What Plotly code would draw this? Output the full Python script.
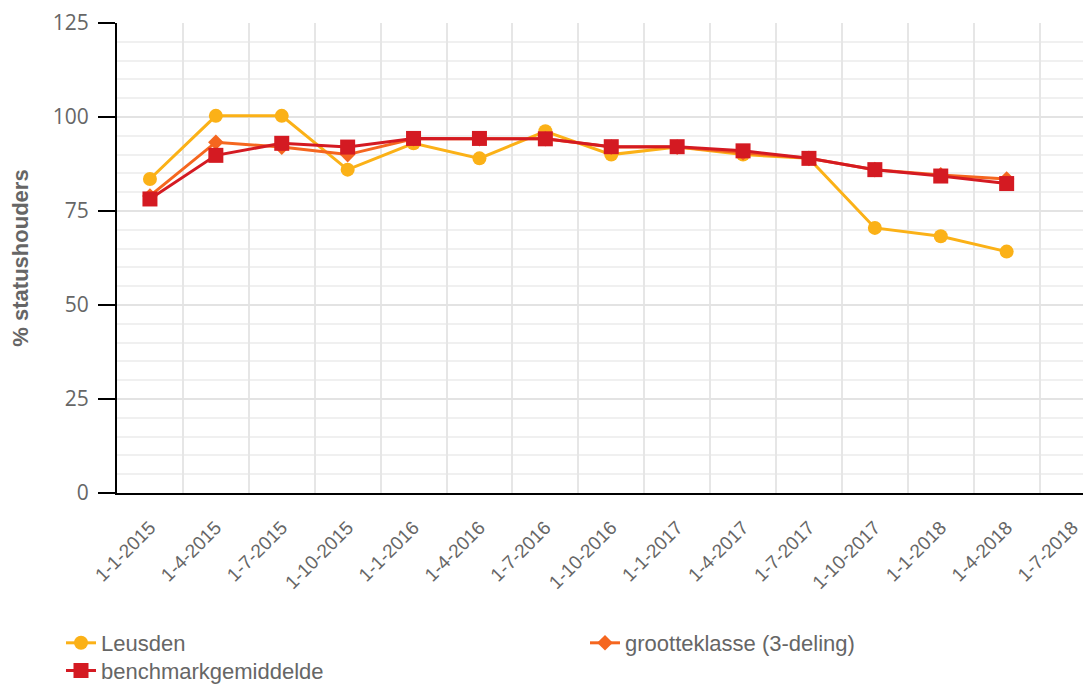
import plotly.graph_objects as go

categories = ["1-1-2015", "1-4-2015", "1-7-2015", "1-10-2015", "1-1-2016", "1-4-2016",
              "1-7-2016", "1-10-2016", "1-1-2017", "1-4-2017", "1-7-2017", "1-10-2017",
              "1-1-2018", "1-4-2018", "1-7-2018"]

leusden = [83.5, 100.3, 100.3, 86, 93, 89, 96.2, 90, 92, 90, 89, 70.5, 68.3, 64.2]
grootteklasse = [79, 93.3, 92, 90, 94.2, 94.2, 94.2, 92, 92, 90.5, 89, 86, 84.6, 83.5]
benchmark = [78.2, 89.8, 93, 92, 94.3, 94.3, 94.2, 92.1, 92.1, 91, 89, 86, 84.3, 82.3]

series = [
    ("Leusden", leusden, "#FBB117", "circle", 14, "legend"),
    ("grootteklasse (3-deling)", grootteklasse, "#F5661F", "diamond", 12, "legend"),
    ("benchmarkgemiddelde", benchmark, "#D41A22", "square", 15, "legend2"),
]

fig = go.Figure()
for name, vals, color, sym, size, leg in series:
    fig.add_trace(go.Scatter(
        x=categories[:len(vals)], y=vals, name=name, mode="lines+markers",
        line=dict(color=color, width=3),
        marker=dict(color=color, symbol=sym, size=size),
        legend=leg,
    ))

font = "Liberation Sans, Arial, sans-serif"
legend_common = dict(orientation="h", xanchor="left", yanchor="top",
                     entrywidth=479, entrywidthmode="pixels",
                     font=dict(size=22, color="#666666", family=font),
                     tracegroupgap=0, itemwidth=30, bgcolor="rgba(0,0,0,0)")
fig.update_layout(
    width=1083, height=676,
    margin=dict(l=109, r=0, t=15, b=191, autoexpand=False),
    paper_bgcolor="white", plot_bgcolor="white",
    font=dict(family=font, color="#666666"),
    showlegend=True,
    legend=dict(x=-0.0575, y=-0.2745, **legend_common),
    legend2=dict(x=-0.0575, y=-0.3335, **legend_common),
    xaxis=dict(
        type="category", categoryorder="array", categoryarray=categories,
        range=[-0.5, 14.28], tickson="boundaries", automargin=False,
        showgrid=True, gridcolor="#e6e6e6", gridwidth=2,
        showline=True, linecolor="black", linewidth=2,
        ticks="", tickangle=-45, ticklabelstandoff=14,
        tickfont=dict(size=19, color="#666666", family=font),
        zeroline=False,
    ),
    yaxis=dict(
        range=[0, 125], tickvals=[0, 25, 50, 75, 100, 125], automargin=False,
        showgrid=True, gridcolor="#e3e3e3", gridwidth=2,
        minor=dict(dtick=5, tick0=0, showgrid=True, gridcolor="#f0f0f0", gridwidth=2),
        showline=True, linecolor="black", linewidth=2,
        ticks="outside", ticklen=17, tickwidth=2, tickcolor="black",
        ticklabelstandoff=5,
        tickfont=dict(size=21, color="#666666", family="Open Sans, sans-serif"),
        title=dict(text="<b>% statushouders</b>",
                   font=dict(size=22, color="#666666", family=font), standoff=30),
        zeroline=False,
    ),
)

fig.write_html("out.html")
